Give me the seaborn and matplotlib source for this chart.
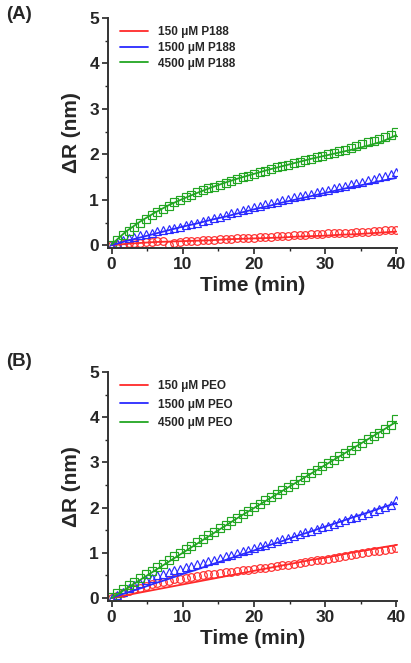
import numpy as np
import pandas as pd
import matplotlib
matplotlib.use("Agg")
import matplotlib.pyplot as plt
import seaborn as sns
from matplotlib.ticker import MultipleLocator

sns.set_style("ticks")
plt.rcParams["font.family"] = ["Liberation Sans", "DejaVu Sans"]
plt.rcParams["font.weight"] = "bold"

# measured time points (min)
t_meas = [0.0, 0.8, 1.6, 2.4, 3.2, 4.0, 4.8, 5.6, 6.4, 7.2, 8.0, 8.8, 9.6, 10.4, 11.2, 12.0,
          12.8, 13.6, 14.4, 15.2, 16.0, 16.8, 17.6, 18.4, 19.2, 20.0, 20.8, 21.6, 22.4, 23.2,
          24.0, 24.8, 25.6, 26.4, 27.2, 28.0, 28.8, 29.6, 30.4, 31.2, 32.0, 32.8, 33.6, 34.4,
          35.2, 36.0, 36.8, 37.6, 38.4, 39.2, 40.0]
# fit curve time points (min)
t_fit = [0, 2, 4, 6, 8, 10, 12, 14, 16, 18, 20, 22, 24, 26, 28, 30, 32, 34, 36, 38, 40]

# (A) P188
a_150 = [0.00, 0.01, 0.03, 0.04, 0.05, 0.06, 0.07, 0.08, 0.09, 0.09, 0.00, 0.05, 0.08, 0.09,
         0.10, 0.10, 0.11, 0.12, 0.12, 0.13, 0.14, 0.14, 0.15, 0.16, 0.16, 0.17, 0.18, 0.18,
         0.19, 0.20, 0.20, 0.21, 0.22, 0.22, 0.23, 0.24, 0.24, 0.25, 0.26, 0.26, 0.27, 0.28,
         0.28, 0.29, 0.30, 0.30, 0.31, 0.32, 0.33, 0.33, 0.34]
a_1500 = [0.00, 0.06, 0.11, 0.15, 0.19, 0.22, 0.25, 0.28, 0.31, 0.33, 0.36, 0.38, 0.41, 0.44,
          0.47, 0.50, 0.53, 0.56, 0.59, 0.63, 0.66, 0.70, 0.73, 0.77, 0.80, 0.84, 0.87, 0.90,
          0.93, 0.96, 0.99, 1.02, 1.05, 1.08, 1.11, 1.13, 1.16, 1.19, 1.22, 1.25, 1.28, 1.31,
          1.34, 1.37, 1.40, 1.43, 1.46, 1.49, 1.52, 1.56, 1.60]
a_4500 = [0.00, 0.12, 0.23, 0.32, 0.41, 0.50, 0.58, 0.66, 0.73, 0.80, 0.87, 0.94, 1.00, 1.06,
          1.11, 1.16, 1.21, 1.25, 1.29, 1.33, 1.37, 1.41, 1.45, 1.49, 1.53, 1.57, 1.61, 1.64,
          1.67, 1.71, 1.74, 1.77, 1.80, 1.83, 1.87, 1.90, 1.93, 1.96, 2.00, 2.03, 2.07, 2.10,
          2.14, 2.18, 2.22, 2.26, 2.30, 2.34, 2.38, 2.43, 2.48]
a_150_fit = [0.00, 0.03, 0.05, 0.07, 0.08, 0.09, 0.10, 0.11, 0.13, 0.14, 0.15, 0.16, 0.17,
             0.19, 0.20, 0.21, 0.23, 0.24, 0.26, 0.28, 0.30]
a_1500_fit = [0.00, 0.09, 0.17, 0.25, 0.33, 0.41, 0.48, 0.56, 0.63, 0.71, 0.79, 0.86, 0.94,
              1.01, 1.08, 1.15, 1.22, 1.29, 1.35, 1.42, 1.48]
a_4500_fit = [0.02, 0.30, 0.52, 0.71, 0.88, 1.02, 1.15, 1.27, 1.38, 1.48, 1.57, 1.66, 1.74,
              1.82, 1.90, 1.97, 2.04, 2.11, 2.19, 2.28, 2.42]

# (B) PEO
b_150 = [0.00, 0.05, 0.10, 0.15, 0.19, 0.23, 0.27, 0.30, 0.33, 0.36, 0.38, 0.41, 0.43, 0.45,
         0.47, 0.49, 0.51, 0.52, 0.54, 0.55, 0.57, 0.58, 0.60, 0.61, 0.62, 0.64, 0.66, 0.67,
         0.69, 0.70, 0.72, 0.74, 0.75, 0.77, 0.79, 0.81, 0.83, 0.85, 0.87, 0.89, 0.91, 0.93,
         0.95, 0.97, 0.99, 1.01, 1.03, 1.05, 1.07, 1.09, 1.10]
b_1500 = [0.00, 0.07, 0.14, 0.21, 0.28, 0.34, 0.40, 0.45, 0.50, 0.54, 0.58, 0.61, 0.64, 0.68,
          0.71, 0.75, 0.78, 0.82, 0.85, 0.89, 0.93, 0.96, 1.00, 1.03, 1.07, 1.11, 1.15, 1.18,
          1.22, 1.26, 1.30, 1.33, 1.37, 1.41, 1.45, 1.48, 1.52, 1.56, 1.60, 1.64, 1.68, 1.72,
          1.76, 1.80, 1.84, 1.88, 1.92, 1.96, 2.01, 2.06, 2.16]
b_4500 = [0.02, 0.11, 0.20, 0.28, 0.36, 0.44, 0.52, 0.60, 0.68, 0.76, 0.84, 0.92, 1.00, 1.08,
          1.16, 1.24, 1.31, 1.39, 1.47, 1.54, 1.62, 1.70, 1.77, 1.85, 1.93, 2.01, 2.08, 2.16,
          2.23, 2.31, 2.38, 2.46, 2.53, 2.61, 2.68, 2.76, 2.83, 2.91, 2.98, 3.06, 3.13, 3.21,
          3.28, 3.36, 3.43, 3.51, 3.59, 3.66, 3.74, 3.82, 3.96]
b_150_fit = [0.00, 0.06, 0.12, 0.18, 0.24, 0.30, 0.36, 0.42, 0.48, 0.54, 0.60, 0.66, 0.72,
             0.78, 0.84, 0.89, 0.95, 1.01, 1.06, 1.12, 1.17]
b_1500_fit = [0.00, 0.11, 0.21, 0.32, 0.42, 0.53, 0.63, 0.74, 0.84, 0.95, 1.05, 1.16, 1.26,
              1.37, 1.47, 1.58, 1.68, 1.79, 1.89, 2.00, 2.10]
b_4500_fit = [0.00, 0.20, 0.40, 0.60, 0.80, 1.00, 1.20, 1.40, 1.60, 1.80, 1.99, 2.18, 2.37,
              2.56, 2.75, 2.94, 3.13, 3.32, 3.51, 3.70, 3.90]

colors = ["#ff2a2a", "#2a2aff", "#22a622"]
markers = ["o", "^", "s"]


def draw_panel(ax, meas, fits, labels, spacing):
    for y, yf, lab, c, m in zip(meas, fits, labels, colors, markers):
        sns.lineplot(x=t_meas, y=y, marker=m, linestyle="none", markersize=5.5,
                     markerfacecolor="none", markeredgecolor=c, markeredgewidth=0.85,
                     color=c, ax=ax, zorder=2)
        sns.lineplot(x=t_fit, y=yf, color=c, linewidth=1.3, label=lab, ax=ax, zorder=3)
    ax.set_xlim(-0.5, 40.1)
    ax.set_ylim(-0.06, 5)
    ax.xaxis.set_major_locator(MultipleLocator(10))
    ax.xaxis.set_minor_locator(MultipleLocator(5))
    ax.yaxis.set_major_locator(MultipleLocator(1))
    ax.yaxis.set_minor_locator(MultipleLocator(0.5))
    ax.tick_params(which="major", direction="out", length=4, width=1.2, labelsize=12.5,
                   pad=2.5)
    ax.tick_params(which="minor", direction="out", length=2.5, width=1.0)
    for s in ["left", "bottom"]:
        ax.spines[s].set_linewidth(1.4)
        ax.spines[s].set_color("#333333")
    sns.despine(ax=ax)
    for lbl in ax.get_xticklabels() + ax.get_yticklabels():
        lbl.set_fontweight("bold")
    ax.set_xlabel("Time (min)", fontsize=15, fontweight="bold", labelpad=3)
    ax.set_ylabel("ΔR (nm)", fontsize=15, fontweight="bold", labelpad=6)
    leg = ax.legend(loc="upper left", frameon=False, fontsize=8.5, handlelength=2.4,
                    labelspacing=spacing, borderaxespad=0.0, handletextpad=0.85,
                    bbox_to_anchor=(0.025, 0.985))
    for txt in leg.get_texts():
        txt.set_fontweight("bold")


fig = plt.figure(figsize=(4.11, 6.63), dpi=100)
ax_a = fig.add_axes([0.263, 0.626, 0.703, 0.347])
ax_b = fig.add_axes([0.263, 0.094, 0.703, 0.345])

draw_panel(ax_a, [a_150, a_1500, a_4500], [a_150_fit, a_1500_fit, a_4500_fit],
           ["150 μM P188", "1500 μM P188", "4500 μM P188"], 0.32)
draw_panel(ax_b, [b_150, b_1500, b_4500], [b_150_fit, b_1500_fit, b_4500_fit],
           ["150 μM PEO", "1500 μM PEO", "4500 μM PEO"], 0.55)

fig.text(0.014, 0.978, "(A)", fontsize=13.5, fontweight="bold", va="center", ha="left")
fig.text(0.014, 0.454, "(B)", fontsize=13.5, fontweight="bold", va="center", ha="left")

fig.savefig("out.png", dpi=100)
